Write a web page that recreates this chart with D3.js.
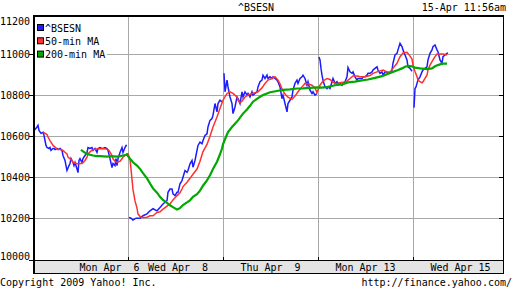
<!DOCTYPE html>
<html><head><meta charset="utf-8">
<script src="https://cdn.jsdelivr.net/npm/d3@7/dist/d3.min.js"></script>
<style>
html,body{margin:0;padding:0;background:#fff;}
svg{display:block;}
text{font-family:"DejaVu Sans Mono",monospace;font-size:10px;fill:#000;white-space:pre;}
</style></head><body>
<svg id="c" width="512" height="288"></svg>
<script>
// ---------- data ----------
const chartTitle = "^BSESN";
const stamp = "15-Apr 11:56am";
const copyright = "Copyright 2009 Yahoo! Inc.";
const sourceUrl = "http://finance.yahoo.com/";
const dayLabels = ["Mon Apr  6","Wed Apr  8","Thu Apr  9","Mon Apr 13","Wed Apr 15"];
const yTicks = [10000,10200,10400,10600,10800,11000,11200];
const seriesNames = ["^BSESN","50-min MA","200-min MA"];
const seriesColors = ["#1c1cff","#ff3030","#00a800"];
const barsPerDay = 95;   // time unit: intraday bar index, 95 bars per session

const priceT = [1,2,4,5,6,8,10,11,12,13,14,16,17,18,20,21,22,24,25,27,29,30,32,33,34,36,37,38,40,41,42,44,45,46,47,49,50,52,54,55,57,59,60,62,64,65,67,69,70,72,74,75,77,79,80,82,83,84,85,87,89,90,92,93,94,
 96,98,100,103,107,110,114,117,120,124,127,130,134,135,137,139,140,142,144,145,147,149,150,152,154,155,157,159,160,162,164,165,167,169,170,172,174,175,177,179,180,182,184,185,187,189,
 191,192,194,195,197,199,200,202,204,205,207,209,210,212,214,215,217,219,220,222,224,225,227,229,230,232,234,235,237,239,240,242,244,245,247,249,250,252,254,255,257,259,260,262,264,265,267,269,270,272,274,275,277,279,280,282,284,
 286,287,288,289,290,292,294,295,297,299,300,302,304,305,307,309,310,312,314,315,317,319,320,322,324,325,327,329,330,332,334,335,337,339,340,342,344,345,347,349,350,352,354,355,357,359,360,362,364,365,367,369,370,372,374,375,377,379,
 381,382,383,384,385,387,389,390,392,394,395,397,399,400,402,404,405,407,409,410,412,414,415];
const priceV = [10628,10633,10645,10653,10628,10614,10619,10604,10579,10555,10545,10540,10545,10531,10540,10540,10535,10540,10535,10540,10531,10506,10482,10457,10433,10457,10467,10491,10472,10457,10472,10440,10423,10482,10491,10472,10491,10506,10521,10545,10540,10545,10531,10540,10521,10540,10545,10540,10540,10545,10540,10531,10491,10447,10467,10457,10491,10457,10491,10521,10545,10521,10545,10555,10555,
 10204,10201,10192,10201,10201,10213,10222,10237,10247,10237,10253,10270,10286,10327,10343,10343,10319,10311,10327,10327,10368,10384,10400,10433,10424,10433,10466,10482,10449,10482,10531,10555,10571,10563,10579,10604,10612,10645,10677,10686,10702,10759,10718,10759,10775,10767,
 10906,10816,10873,10840,10791,10759,10710,10742,10791,10783,10759,10816,10791,10816,10800,10808,10791,10816,10800,10808,10816,10840,10865,10873,10897,10881,10897,10881,10889,10881,10889,10881,10873,10865,10840,10783,10800,10759,10718,10759,10775,10791,10824,10857,10873,10857,10881,10889,10897,10881,10848,10865,10824,10808,10816,10800,10808,
 10985,10971,10930,10897,10873,10840,10832,10840,10832,10865,10881,10857,10865,10857,10857,10848,10857,10865,10889,10934,10913,10906,10913,10889,10873,10881,10881,10881,10889,10889,10897,10906,10906,10913,10922,10930,10938,10922,10906,10913,10897,10913,10913,10906,10906,10922,10955,10995,11003,11020,11052,11036,11020,10995,10971,10938,10930,10916,
 10739,10832,10840,10857,10873,10889,10913,10922,10930,10938,10971,11003,11020,11036,11044,11020,11011,10971,10955,10987,10995,11003,11006];

const ma50T = [10,14,15,17,19,20,22,24,27,30,32,34,35,37,39,40,44,47,50,52,54,55,57,59,62,65,69,72,75,76,79,80,82,84,87,89,90,92,94,95,97,98,99,100,102,104,105,107,109,110,114,117,120,124,127,130,134,137,140,144,147,149,150,154,157,160,164,167,170,174,177,180,184,187,190,194,197,200,204,205,207,209,212,215,219,222,225,229,232,235,239,242,245,247,249,252,255,259,262,265,269,272,275,279,282,284,287,290,294,297,300,304,307,310,314,317,320,324,327,332,337,340,344,347,350,354,357,360,364,367,370,374,375,377,379,380,382,384,385,387,389,390,392,394,395,397,399,400,402,404,407,410,414];
const ma50V = [10620,10608,10596,10579,10563,10555,10547,10537,10535,10531,10522,10514,10498,10490,10482,10473,10466,10466,10470,10482,10498,10514,10524,10532,10537,10539,10539,10539,10535,10531,10506,10490,10478,10473,10478,10490,10498,10506,10514,10514,10487,10440,10390,10340,10285,10250,10221,10210,10204,10204,10206,10213,10213,10229,10232,10245,10260,10270,10290,10311,10325,10343,10355,10376,10395,10415,10440,10478,10525,10560,10600,10645,10693,10735,10775,10808,10816,10808,10791,10775,10763,10770,10791,10800,10808,10812,10816,10835,10857,10873,10881,10889,10873,10855,10830,10805,10790,10780,10795,10816,10840,10857,10855,10848,10835,10812,10848,10868,10881,10876,10862,10855,10860,10862,10868,10881,10893,10893,10889,10889,10895,10906,10913,10918,10922,10913,10913,10930,10955,10987,11005,11008,11003,10990,10975,10946,10915,10889,10873,10865,10860,10865,10881,10897,10922,10946,10963,10971,10987,11000,11000,11000,10995];

const ma200T = [48,50,54,57,60,64,67,74,77,84,87,90,94,95,97,100,104,107,110,114,117,120,124,127,130,134,137,140,144,147,150,154,157,160,164,167,170,174,177,180,184,187,189,190,192,195,199,202,205,207,210,214,217,220,224,227,230,234,237,244,250,257,264,270,277,284,289,295,302,309,315,322,329,335,342,349,354,360,365,369,372,375,379,382,387,394,399,402,405,409,414];
const ma200V = [10534,10526,10514,10510,10506,10503,10503,10501,10503,10501,10503,10506,10510,10503,10490,10473,10457,10441,10420,10395,10370,10346,10325,10305,10290,10276,10264,10255,10243,10250,10265,10278,10288,10305,10318,10335,10359,10385,10410,10440,10476,10512,10540,10560,10585,10620,10645,10661,10677,10690,10710,10730,10748,10768,10782,10792,10800,10808,10814,10820,10825,10828,10832,10833,10835,10838,10836,10840,10848,10852,10862,10866,10872,10876,10884,10892,10902,10913,10922,10930,10938,10942,10940,10934,10930,10926,10930,10940,10946,10953,10953];

// ---------- layout ----------
const plotL = 33, plotR = 504, plotT = 15, plotB = 260;
const svg = d3.select("#c");

const x = d3.scaleLinear().domain([0, 471]).range([plotL, plotR]);
const y = d3.scaleLinear().domain([10000, 11000]).range([259.5, 54]);
const crisp = v => Math.round(v) + 0.5;

// gridlines
const g = svg.append("g").attr("shape-rendering","crispEdges");
const inner = yTicks.filter(v => y(v) > plotT + 2 && y(v) < plotB - 2);
g.selectAll("line.hg").data(inner).join("line")
  .attr("x1", plotL + 2).attr("x2", plotR - 1)
  .attr("y1", d => crisp(y(d))).attr("y2", d => crisp(y(d)))
  .attr("stroke", "#a8a8a8");
const dayStarts = d3.range(1, dayLabels.length).map(i => i * barsPerDay);
g.selectAll("line.vg").data(dayStarts).join("line")
  .attr("x1", d => crisp(x(d))).attr("x2", d => crisp(x(d)))
  .attr("y1", plotT + 2).attr("y2", plotB)
  .attr("stroke", "#a8a8a8");

// series
const line = d3.line().x(d => x(d[0])).y(d => y(d[1]));
const zip = (T, V) => T.map((t, i) => [t, V[i]]);
const priceByDay = d3.groups(zip(priceT, priceV), d => Math.floor(d[0] / barsPerDay)).map(a => a[1]);
svg.append("g").selectAll("path").data(priceByDay).join("path")
  .attr("d", line).attr("fill","none").attr("stroke", seriesColors[0]).attr("stroke-width", 1.5)
  .attr("stroke-linejoin","miter");
svg.append("path").attr("d", line(zip(ma50T, ma50V)))
  .attr("fill","none").attr("stroke", seriesColors[1]).attr("stroke-width", 1.5);
svg.append("path").attr("d", line(zip(ma200T, ma200V)))
  .attr("fill","none").attr("stroke", seriesColors[2]).attr("stroke-width", 2.2);

// frame
const f = svg.append("g").attr("shape-rendering","crispEdges");
f.append("rect").attr("x", plotL).attr("y", plotT).attr("width", plotR - plotL).attr("height", 2).attr("fill","#000");
f.append("rect").attr("x", plotL).attr("y", plotT).attr("width", 2).attr("height", 274 - plotT).attr("fill","#000");
f.append("rect").attr("x", plotR - 1).attr("y", plotT).attr("width", 1).attr("height", 274 - plotT).attr("fill","#000");
// x band
f.append("rect").attr("x", plotL).attr("y", plotB).attr("width", plotR - plotL).attr("height", 14).attr("fill","#000");
f.append("rect").attr("x", plotL + 2).attr("y", plotB + 1).attr("width", plotR - plotL - 3).attr("height", 12).attr("fill","#e4e4e4");
// day ticks on band
f.selectAll("line.dt").data(dayStarts).join("line")
  .attr("x1", d => crisp(x(d))).attr("x2", d => crisp(x(d)))
  .attr("y1", plotB - 3).attr("y2", plotB).attr("stroke","#000");
// y ticks left (outside) and right (inside)
const tickVals = yTicks.filter(v => y(v) > plotT && y(v) <= plotB);
f.selectAll("line.lt").data(tickVals).join("line")
  .attr("x1", plotL - 4).attr("x2", plotL)
  .attr("y1", d => crisp(y(d))).attr("y2", d => crisp(y(d))).attr("stroke","#000");
f.selectAll("line.rt").data(tickVals).join("line")
  .attr("x1", plotR - 5).attr("x2", plotR - 1)
  .attr("y1", d => crisp(y(d))).attr("y2", d => crisp(y(d))).attr("stroke","#000");

// y labels
svg.append("g").selectAll("text").data(yTicks).join("text")
  .attr("x", 30).attr("text-anchor","end")
  .attr("y", d => Math.min(Math.max(y(d), plotT + 6), 256))
  .attr("dy", "0.36em")
  .text(d => d);

// x labels (centred in each session column)
svg.append("g").selectAll("text").data(dayLabels).join("text")
  .attr("x", (d, i) => x((i + 0.5) * barsPerDay) + (i === 0 ? 29 : i === 1 ? 2.5 : 0))
  .attr("y", 270.5).attr("text-anchor","middle")
  .text(d => d);

// legend
const lg = svg.append("g");
lg.append("rect").attr("x", plotL + 2).attr("y", 18).attr("width", 72).attr("height", 42).attr("fill","#fff");
const rows = lg.selectAll("g.row").data(seriesNames).join("g")
  .attr("transform", (d, i) => `translate(0,${31.5 + 13.3 * i})`);
rows.append("rect").attr("x", 37.5).attr("y", -7).attr("width", 6).attr("height", 6)
  .attr("fill", (d, i) => seriesColors[i]).attr("stroke","#000").attr("stroke-width",1);
rows.append("text").attr("x", 45).attr("y", 0).text(d => d);

// titles and footer
svg.append("text").attr("x", 256).attr("y", 10.7).attr("text-anchor","middle").text(chartTitle);
svg.append("text").attr("x", 506).attr("y", 10.7).attr("text-anchor","end").text(stamp);
svg.append("text").attr("x", 0).attr("y", 285.5).text(copyright);
svg.append("text").attr("x", 512).attr("y", 285.5).attr("text-anchor","end").text(sourceUrl);
</script>
</body></html>
